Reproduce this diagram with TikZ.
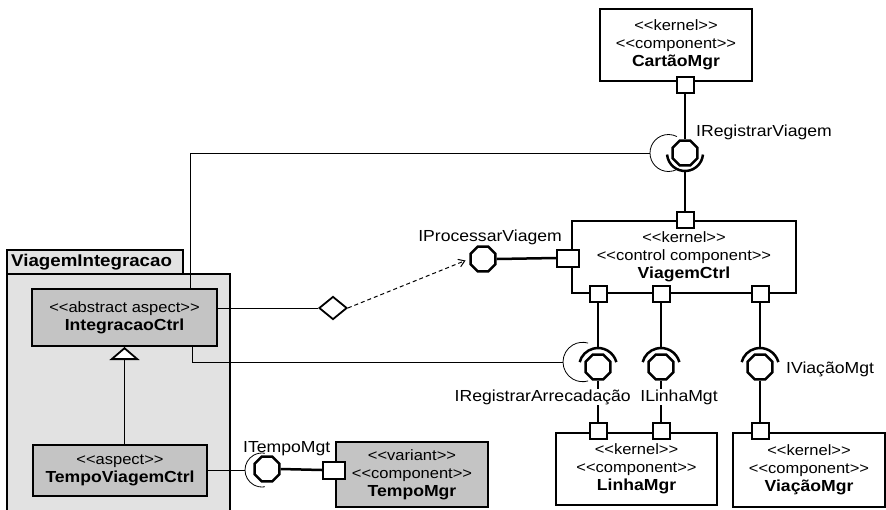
\documentclass[tikz,border=0pt]{standalone}
\usepackage{fontspec}
\setmainfont{Liberation Sans}[Ligatures=TeXOff, FakeStretch=1.1]
\usetikzlibrary{arrows.meta,shapes.geometric}

\definecolor{aspectfill}{RGB}{196,196,196}
\definecolor{packagefill}{RGB}{226,226,226}

\newcommand{\sterfont}{\fontsize{15}{18}\selectfont}
\newcommand{\namefont}{\fontsize{16}{18}\selectfont\bfseries}
\newcommand{\labfont}{\fontsize{16}{18}\selectfont}

\tikzset{
  comp/.style={draw, line width=2pt, fill=white, inner sep=0pt, align=center, font=\sterfont},
  aspect/.style={comp, fill=aspectfill},
  port/.style={draw, line width=2pt, fill=white, inner sep=0pt, minimum width=17pt, minimum height=16pt},
  sideport/.style={port, minimum width=22pt, minimum height=17pt},
  ball/.style={draw, line width=2.5pt, fill=white, regular polygon, regular polygon sides=8, minimum size=27pt, inner sep=0pt},
  conn/.style={line width=2.5pt},
  thinline/.style={line width=1pt},
  socket/.style={line width=2.5pt},
  thinsocket/.style={line width=0.8pt},
  iflabel/.style={font=\labfont, inner sep=1pt},
}

\begin{document}
\begin{tikzpicture}[x=1pt,y=-1pt]
\useasboundingbox (0,0) rectangle (886,509);
\fill[white] (0,0) rectangle (886,509);

% package ViagemIntegracao
\draw[line width=2pt, fill=packagefill] (7,274) rectangle (230,530);
\draw[line width=2pt, fill=packagefill] (7,250) rectangle (183,274);
\node[anchor=west, font=\fontsize{17}{18}\selectfont\bfseries, inner sep=0pt] (pkgname) at (11,262) {ViagemIntegracao};

% components
\node[comp, minimum width=152pt, minimum height=72pt] (cartao) at (676,45)
  {<<kernel>>\\<<component>>\\{\namefont CartãoMgr}};
\node[comp, minimum width=224pt, minimum height=72pt] (viagem) at (684,257)
  {<<kernel>>\\<<control component>>\\{\namefont ViagemCtrl}};
\node[comp, minimum width=161pt, minimum height=72pt] (linha) at (636.5,469)
  {<<kernel>>\\<<component>>\\{\namefont LinhaMgr}};
\node[comp, minimum width=152pt, minimum height=74pt] (viacao) at (809,470)
  {<<kernel>>\\<<component>>\\{\namefont ViaçãoMgr}};
\node[aspect, minimum width=185pt, minimum height=57pt] (integ) at (124.5,317.5)
  {<<abstract aspect>>\\{\namefont IntegracaoCtrl}};
\node[aspect, minimum width=174pt, minimum height=51pt] (tempov) at (120,470.5)
  {<<aspect>>\\{\namefont TempoViagemCtrl}};
\node[aspect, minimum width=152pt, minimum height=65pt] (tempom) at (412,474.5)
  {<<variant>>\\<<component>>\\{\namefont TempoMgr}};

% ports
\node[port] (pc) at (685,85) {};
\node[port] (pvt) at (685,220) {};
\node[sideport] (pvl) at (568,258) {};
\node[port] (pvb1) at (598,294) {};
\node[port] (pvb2) at (661,294) {};
\node[port] (pvb3) at (760,294) {};
\node[port] (pl1) at (598,431) {};
\node[port] (pl2) at (661,431) {};
\node[port] (pvi) at (760,431) {};
\node[sideport] (pt) at (334,470) {};

% provided interfaces (balls)
\node[ball] (brv) at (685,153) {};
\node[ball] (bpv) at (483,259) {};
\node[ball] (bra) at (598,367) {};
\node[ball] (blm) at (661,367) {};
\node[ball] (bvm) at (760,367) {};
\node[ball] (btm) at (267,469) {};

% socket ends
\coordinate (urv) at ([yshift=-18pt]brv.center);
\coordinate (ura) at ([yshift=19pt]bra.center);
\coordinate (ulm) at ([yshift=19pt]blm.center);
\coordinate (uvm) at ([yshift=19pt]bvm.center);
\coordinate (srv) at (650,153);
\coordinate (sra) at (563,362);
\coordinate (stm) at (245,470);

% assembly connectors
\draw[conn] (pc.south) -- (brv.north);
\draw[conn] (urv) -- (pvt.north);
\draw[conn] (bpv.east) -- (pvl.west);
\draw[conn] (pvb1.south) -- (ura);
\draw[conn] (pvb2.south) -- (ulm);
\draw[conn] (pvb3.south) -- (uvm);
\draw[conn] (bra.south) -- (pl1.north);
\draw[conn] (blm.south) -- (pl2.north);
\draw[conn] (bvm.south) -- (pvi.north);
\draw[conn] (btm.east) -- (pt.west);

% required interfaces (sockets)
\draw[socket] ([shift={(185:18pt)}]brv.center) arc[start angle=185, end angle=355, radius=18pt];
\draw[socket] ([shift={(15:19pt)}]bra.center) arc[start angle=15, end angle=165, radius=19pt];
\draw[socket] ([shift={(15:19pt)}]blm.center) arc[start angle=15, end angle=165, radius=19pt];
\draw[socket] ([shift={(15:19pt)}]bvm.center) arc[start angle=15, end angle=165, radius=19pt];

% aspect sockets
\draw[thinsocket] (srv) arc[start angle=180, end angle=63, radius=18.5pt]
                  (srv) arc[start angle=180, end angle=297, radius=18.5pt];
\draw[thinsocket] (sra) arc[start angle=180, end angle=74, radius=19.7pt]
                  (sra) arc[start angle=180, end angle=286, radius=19.7pt];
\draw[thinsocket] (stm) arc[start angle=180, end angle=80, radius=17pt]
                  (stm) arc[start angle=180, end angle=280, radius=17pt];

% aspect crosscutting lines
\draw[thinline] ([xshift=65.5pt]integ.north) |- (srv);
\draw[thinline] ([xshift=67.5pt]integ.south) |- (sra);
\draw[thinline] (stm -| tempov.east) -- (stm);

\node[draw, line width=1.8pt, diamond, fill=white, minimum width=28pt, minimum height=23pt, inner sep=0pt] (dia) at (333,308) {};
\draw[thinline] (dia.west -| integ.east) -- (dia.west);
\draw[thinline, dash pattern=on 4pt off 3pt, shorten >=4pt,
      -{Straight Barb[length=6pt, width=8pt, line width=1pt]}] (dia.east) -- (bpv.west);

% generalization
\draw[thinline, -{Triangle[length=13pt, width=30pt, fill=white, line width=1.8pt]}]
  (tempov.north -| integ.south) -- (integ.south);

% interface labels
\node[iflabel, anchor=west] (lrv) at (695,132) {IRegistrarViagem};
\node[iflabel, anchor=east] (lpv) at (563,237) {IProcessarViagem};
\node[iflabel, anchor=east, fill=white] (lra) at (632,397) {IRegistrarArrecadação};
\node[iflabel, fill=white] (llm) at (679,397) {ILinhaMgt};
\node[iflabel, anchor=west] (lvm) at (785,369) {IViaçãoMgt};
\node[iflabel, anchor=west] (ltm) at (242,449) {ITempoMgt};
\end{tikzpicture}
\end{document}
